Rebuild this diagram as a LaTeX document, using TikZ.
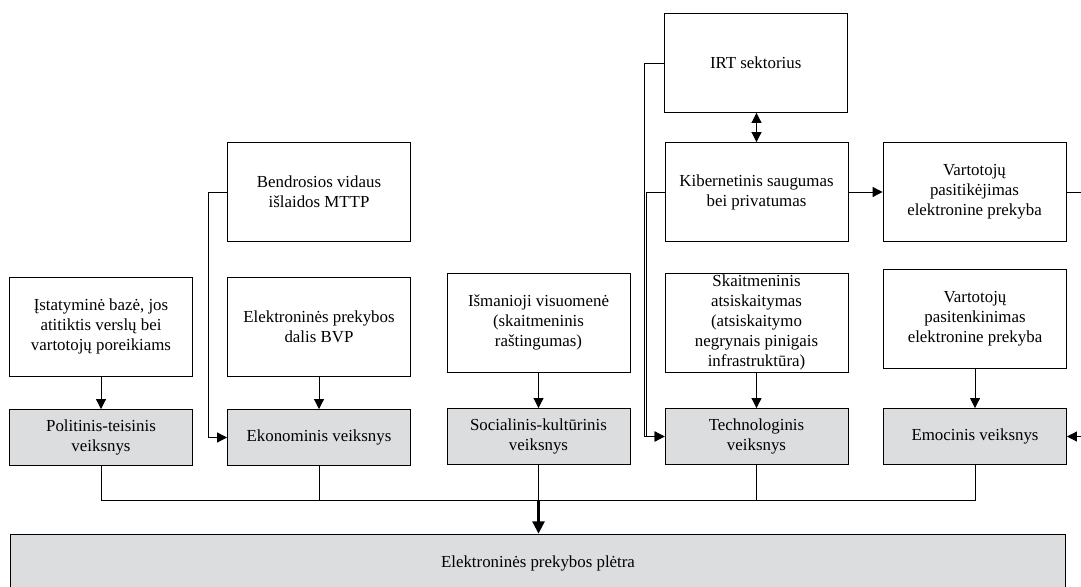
\documentclass[tikz,border=0pt]{standalone}
\usepackage{fontspec}
\setmainfont{Liberation Serif}
\usetikzlibrary{arrows.meta}
\definecolor{pilka}{RGB}{220,221,223}

\begin{document}
\begin{tikzpicture}[x=0.02cm, y=-0.02cm,
        font=\fontsize{9.6}{11.4}\selectfont,
        every node/.style={align=center, inner sep=2pt},
        saltinis/.style={draw, line width=0.5pt, minimum width=3.66cm, minimum height=1.98cm},
        veiksnys/.style={draw, line width=0.5pt, fill=pilka, minimum width=3.66cm, minimum height=1.12cm},
        jungtis/.style={line width=0.5pt},
        rodykle/.style={jungtis, -{Triangle[length=5.7pt, width=5.7pt]}}]
    \useasboundingbox (0,0) rectangle (1081,587);
    \node[saltinis] (irt) at (755.7,63) {IRT sektorius};
    \node[saltinis] (kiber) at (756.5,192) {Kibernetinis saugumas\\bei privatumas};
    \node[saltinis] (pasit) at (974.5,192) {Vartotojų\\pasitikėjimas\\elektronine prekyba};
    \node[saltinis] (bendr) at (319,192) {Bendrosios vidaus\\išlaidos MTTP};
    \node[saltinis] (istat) at (101,326.5) {Įstatyminė bazė, jos\\atitiktis verslų bei\\vartotojų poreikiams};
    \node[saltinis] (bvp) at (319,326.5) {Elektroninės prekybos\\dalis BVP};
    \node[saltinis] (isman) at (538.5,322.5) {Išmanioji visuomenė\\(skaitmeninis\\raštingumas)};
    \node[saltinis, inner ysep=0pt] (skait) at (756.5,322.5) {Skaitmeninis\\atsiskaitymas\\(atsiskaitymo\\negrynais pinigais\\infrastruktūra)};
    \node[saltinis] (pasiten) at (975,318.5) {Vartotojų\\pasitenkinimas\\elektronine prekyba};
    \node[veiksnys] (polit) at (101,437.5) {Politinis-teisinis\\veiksnys};
    \node[veiksnys] (ekon) at (319,437.5) {Ekonominis veiksnys};
    \node[veiksnys] (social) at (538.5,436.5) {Socialinis-kultūrinis\\veiksnys};
    \node[veiksnys] (techn) at (756.5,436.5) {Technologinis\\veiksnys};
    \node[veiksnys] (emoc) at (975,436.5) {Emocinis veiksnys};
    \node[veiksnys, minimum width=21.12cm, minimum height=1.16cm] (pletra) at (538,563) {Elektroninės prekybos plėtra};
    \coordinate (bus) at (538.5,500);
    \coordinate (pasitout) at (1090,192);
    \coordinate (emocin) at (1090,436.5);
    \draw[rodykle] (istat) -- (polit);
    \draw[rodykle] (bvp) -- (ekon);
    \draw[rodykle] (isman) -- (social);
    \draw[rodykle] (skait) -- (techn);
    \draw[rodykle] (pasiten) -- (emoc);
    \draw[rodykle] (bendr.west) -- ++(-19,0) |- (ekon.west);
    \draw[rodykle] (irt.west) -- ++(-19,0) |- (techn.west);
    \draw[rodykle] (kiber.west) -- ++(-18,0) |- (techn.west);
    \draw[jungtis, {Triangle[length=5.7pt, width=5.7pt]}-{Triangle[length=5.7pt, width=5.7pt]}] (kiber.north) -- (kiber.north |- irt.south);
    \draw[rodykle] (kiber) -- (pasit);
    \draw[jungtis] (pasit.east) -- (pasitout);
    \draw[rodykle] (emocin) -- (emoc.east);
    \draw[jungtis] (polit.south) |- (bus);
    \draw[jungtis] (ekon.south) |- (bus);
    \draw[jungtis] (social.south) -- (bus);
    \draw[jungtis] (techn.south) |- (bus);
    \draw[jungtis] (emoc.south) |- (bus);
    \draw[line width=1.2pt, -{Triangle[length=7pt, width=7pt]}] (bus) -- (bus |- pletra.north);
\end{tikzpicture}
\end{document}
